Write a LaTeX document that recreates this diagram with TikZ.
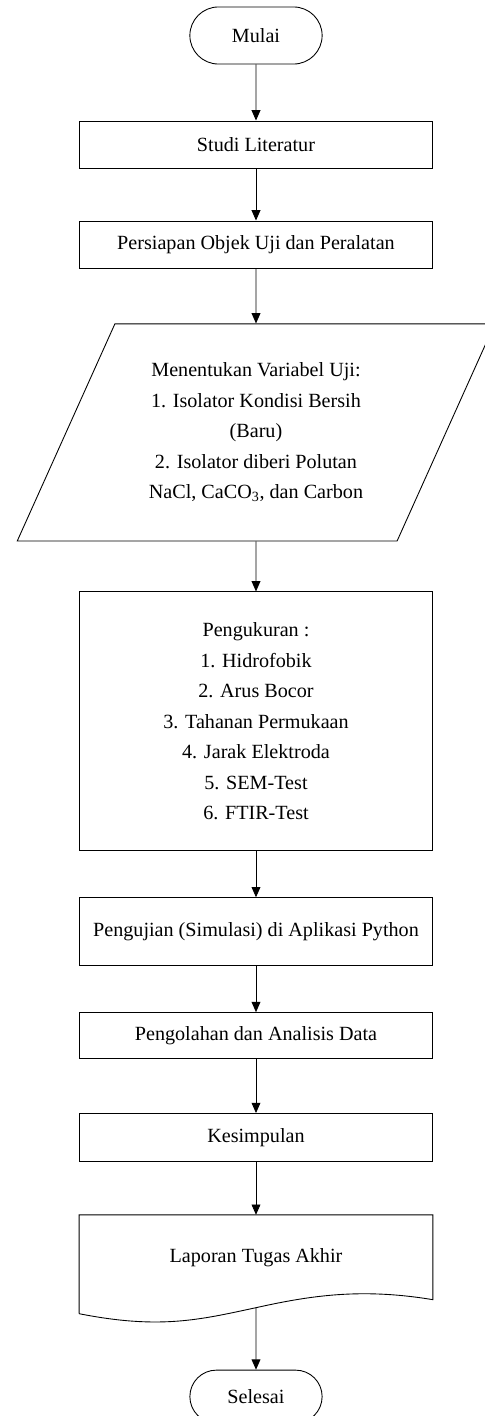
\documentclass[tikz,border=0pt]{standalone}
\usepackage{fontspec}
\setmainfont{Liberation Serif}
\usetikzlibrary{positioning,shapes.geometric,shapes.misc,arrows.meta,calc}

\begin{document}
\begin{tikzpicture}[
    x=0.68pt, y=0.68pt,
    font=\fontsize{13.7}{20.7}\selectfont,
    term/.style={rounded rectangle, draw, line width=0.6pt, minimum width=96.6pt, minimum height=38.8pt},
    proc/.style={rectangle, draw, line width=0.6pt, minimum width=240pt, align=center},
    io/.style={trapezium, trapezium left angle=62.5, trapezium right angle=117.5,
        trapezium stretches=true, draw, line width=0.6pt,
        minimum width=325pt, minimum height=147.6pt, align=center},
    flow/.style={-{Triangle[length=7pt, width=6pt]}, line width=0.6pt}
]
    \useasboundingbox (-256,35.5) rectangle (229,-1380.5);

    \node[term] (mulai) {Mulai};
    \node[proc, minimum height=32pt, below=38.1pt of mulai] (studi) {Studi Literatur};
    \node[proc, minimum height=32pt, below=35.4pt of studi] (persiapan) {Persiapan Objek Uji dan Peralatan};
    \node[io, below=37.4pt of persiapan] (variabel) {Menentukan Variabel Uji:\\
        1. Isolator Kondisi Bersih\\ (Baru)\\ 2. Isolator diberi Polutan\\
        NaCl, CaCO\textsubscript{3}, dan Carbon};
    \node[proc, minimum height=176.1pt, below=34pt of variabel] (ukur) {Pengukuran :\\
        1. Hidrofobik\\ 2. Arus Bocor\\ 3. Tahanan Permukaan\\
        4. Jarak Elektroda\\ 5. SEM-Test\\ 6. FTIR-Test};
    \node[proc, minimum height=46.2pt, below=31.3pt of ukur] (uji) {Pengujian (Simulasi) di Aplikasi Python};
    \node[proc, minimum height=31.3pt, below=31.3pt of uji] (olah) {Pengolahan dan Analisis Data};
    \node[proc, minimum height=32.6pt, below=36.7pt of olah] (simpul) {Kesimpulan};
    \node[proc, draw=none, minimum height=57.1pt, below=36pt of simpul] (lap) {Laporan Tugas Akhir};
    \node[term, minimum height=36pt, below=47.6pt of lap] (selesai) {Selesai};

    % document symbol with wavy bottom
    \coordinate (lapbot) at ($(lap.south)+(0,-8)$);
    \draw[line width=0.6pt] ($(lap.south west)+(0,-14)$) -- (lap.north west) -- (lap.north east)
        -- (lap.south east) .. controls +(-72,12) and +(54,12) .. (lapbot)
        .. controls +(-56,-12) and +(81,-16) .. ($(lap.south west)+(0,-14)$);

    \draw[flow] (mulai) -- (studi);
    \draw[flow] (studi) -- (persiapan);
    \draw[flow] (persiapan) -- (variabel);
    \draw[flow] (variabel) -- (ukur);
    \draw[flow] (ukur) -- (uji);
    \draw[flow] (uji) -- (olah);
    \draw[flow] (olah) -- (simpul);
    \draw[flow] (simpul) -- (lap);
    \draw[flow] (lapbot) -- (selesai);
\end{tikzpicture}
\end{document}
